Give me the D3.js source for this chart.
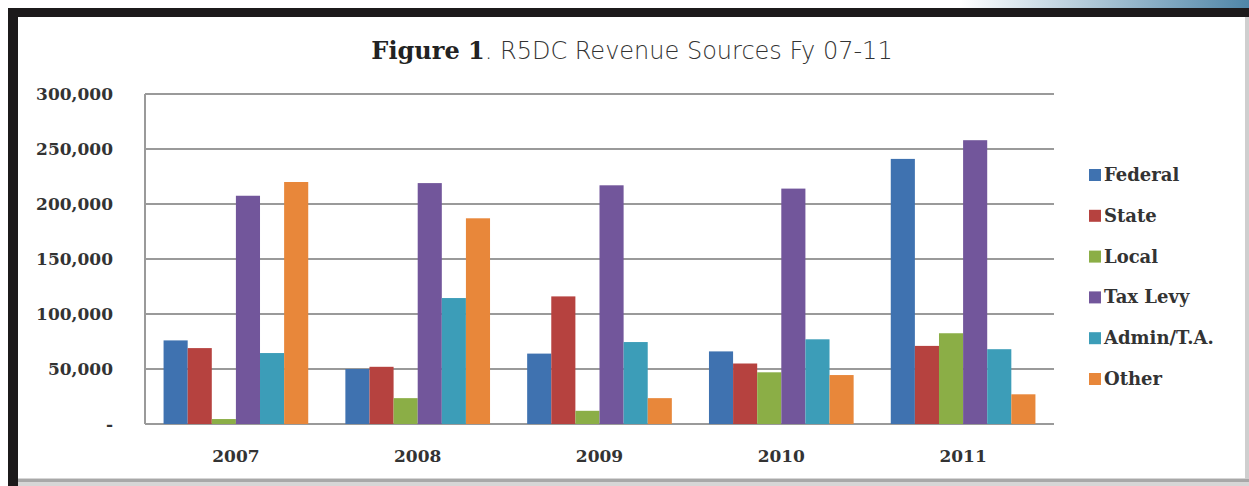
<!DOCTYPE html>
<html>
<head>
    <meta charset="utf-8" />
    <script src="https://d3js.org/d3.v7.min.js"></script>
    <title>Figure 1. R5DC Revenue Sources Fy 07-11</title>
    <style type="text/css">
        body { margin: 0; background: #fff; }
        .tick text, .legend text, .year { font-family: "DejaVu Serif", serif; font-weight: bold; fill: #333; }
        .grid line { stroke: #9a9a9a; stroke-width: 2px; }
    </style>
</head>
<body>
    <div id="chart"></div>

    <script type="text/javascript">
        const years = ["2007", "2008", "2009", "2010", "2011"];
        const sources = ["Federal", "State", "Local", "Tax Levy", "Admin/T.A.", "Other"];
        const federal = [76000, 50000, 64000, 66000, 241000];
        const state = [69000, 52000, 116000, 55000, 71000];
        const local = [4500, 23500, 12000, 47000, 82500];
        const taxLevy = [207500, 219000, 217000, 214000, 258000];
        const admin = [64500, 114500, 74500, 77000, 68000];
        const other = [220000, 187000, 23500, 44500, 27000];
        const yTicks = [0, 50000, 100000, 150000, 200000, 250000, 300000];
        const colors = ["#3f72b0", "#b6423f", "#8bae46", "#72569b", "#3c9db8", "#e8873a"];

        const series = [federal, state, local, taxLevy, admin, other];

        const width = 1249, height = 486;
        const svg = d3.select("#chart").append("svg").attr("width", width).attr("height", height);

        // frame
        const grad = svg.append("defs").append("linearGradient").attr("id", "topfade");
        grad.append("stop").attr("offset", "0%").attr("stop-color", "#fff");
        grad.append("stop").attr("offset", "100%").attr("stop-color", "#4f86a8");
        svg.append("rect").attr("x", 960).attr("y", 0).attr("width", 289).attr("height", 9).attr("fill", "url(#topfade)");
        svg.append("rect").attr("x", 8).attr("y", 8).attr("width", 1241).attr("height", 9).attr("fill", "#1c1a1b");
        svg.append("rect").attr("x", 8).attr("y", 8).attr("width", 10).attr("height", 478).attr("fill", "#1c1a1b");
        svg.append("rect").attr("x", 18).attr("y", 478).attr("width", 1231).attr("height", 8).attr("fill", "#d6d6d6");
        svg.append("rect").attr("x", 18).attr("y", 479).attr("width", 1231).attr("height", 3).attr("fill", "#a8a8a8");
        svg.append("rect").attr("x", 1245).attr("y", 17).attr("width", 4).attr("height", 462).attr("fill", "#cfcfcf");

        const plotLeft = 145, plotRight = 1054, plotTop = 94, plotBottom = 424;

        const x0 = d3.scaleBand().domain(years).range([plotLeft, plotRight]).paddingInner(0).paddingOuter(0);
        const x1 = d3.scaleBand().domain(sources).range([0, x0.bandwidth()]).paddingInner(0).paddingOuter(0.77);
        const y = d3.scaleLinear().domain([0, 300000]).range([plotBottom, plotTop]);

        // gridlines
        svg.append("g").attr("class", "grid")
            .selectAll("line").data(yTicks).enter().append("line")
            .attr("x1", plotLeft).attr("x2", plotRight)
            .attr("y1", d => y(d)).attr("y2", d => y(d));

        svg.append("line").attr("x1", plotLeft).attr("x2", plotLeft).attr("y1", plotTop).attr("y2", plotBottom)
            .attr("stroke", "#9a9a9a").attr("stroke-width", 2);

        // y axis labels
        const yAxis = d3.axisLeft(y).tickValues(yTicks).tickSize(0).tickPadding(32)
            .tickFormat(d => d === 0 ? "-" : d3.format(",")(d));
        svg.append("g").attr("transform", `translate(${plotLeft},0)`).call(yAxis)
            .call(g => g.select(".domain").remove())
            .selectAll("text").attr("font-size", 17);

        // bars
        const groups = svg.append("g").selectAll("g")
            .data(years).enter().append("g")
            .attr("transform", d => `translate(${x0(d)},0)`);

        groups.selectAll("rect")
            .data((d, i) => sources.map((s, j) => ({ source: s, value: series[j][i], color: colors[j] })))
            .enter().append("rect")
            .attr("x", d => x1(d.source))
            .attr("width", x1.bandwidth())
            .attr("y", d => y(d.value))
            .attr("height", d => y(0) - y(d.value))
            .attr("fill", d => d.color);

        // year labels
        svg.append("g").selectAll("text").data(years).enter().append("text")
            .attr("class", "year")
            .attr("x", d => x0(d) + x0.bandwidth() / 2)
            .attr("y", 462)
            .attr("text-anchor", "middle")
            .attr("font-size", 17)
            .text(d => d);

        // legend
        const legend = svg.append("g").attr("class", "legend")
            .selectAll("g").data(sources).enter().append("g")
            .attr("transform", (d, i) => `translate(1089,${175 + i * 40.8})`);
        legend.append("rect").attr("x", 0).attr("y", -6).attr("width", 12).attr("height", 12)
            .attr("fill", (d, i) => colors[i]);
        legend.append("text").attr("x", 15).attr("y", 6).attr("font-size", 18).text(d => d);

        // title
        const title = svg.append("text").attr("x", 632).attr("y", 59).attr("text-anchor", "middle")
            .attr("font-size", 24).attr("fill", "#222");
        title.append("tspan").attr("font-family", "'DejaVu Serif', serif").attr("font-weight", "bold").text("Figure 1");
        title.append("tspan").attr("font-family", "'DejaVu Sans', sans-serif").attr("font-weight", "300")
            .attr("fill", "#333").text(". R5DC Revenue Sources Fy 07-11");
    </script>
</body>
</html>
